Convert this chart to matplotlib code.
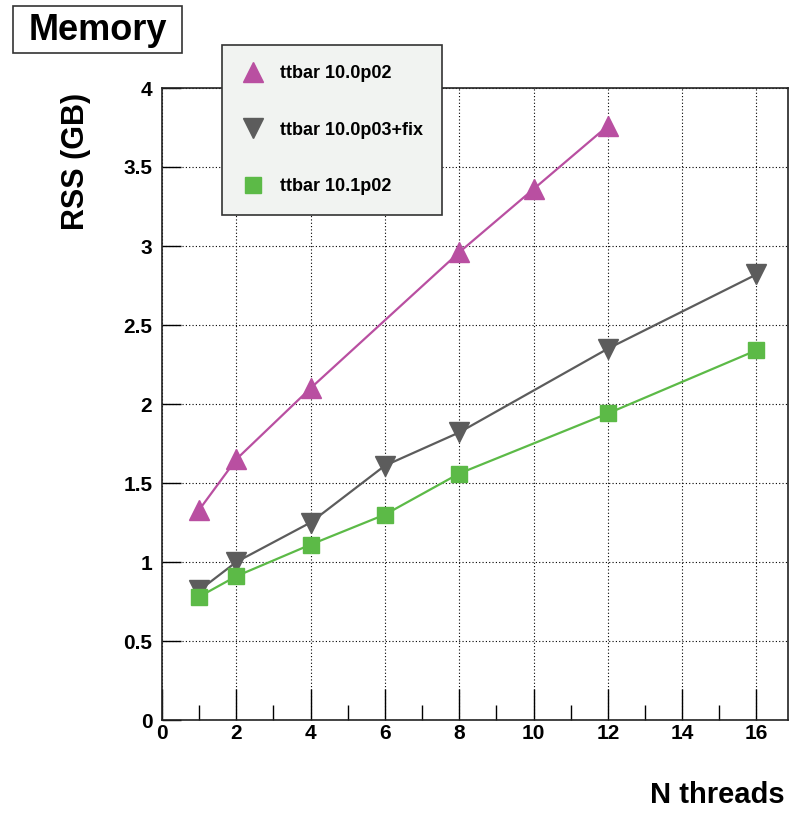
import matplotlib
matplotlib.use("Agg")
import matplotlib.pyplot as plt
from matplotlib.patches import Rectangle
from matplotlib.ticker import MultipleLocator

plt.rcParams['font.family'] = ['Liberation Sans', 'DejaVu Sans']
plt.rcParams['font.weight'] = 'bold'

# Data
x_p02 = [1, 2, 4, 8, 10, 12]
y_p02 = [1.33, 1.65, 2.10, 2.96, 3.36, 3.76]
x_p03 = [1, 2, 4, 6, 8, 12, 16]
y_p03 = [0.82, 1.00, 1.25, 1.61, 1.82, 2.35, 2.82]
x_101 = [1, 2, 4, 6, 8, 12, 16]
y_101 = [0.78, 0.91, 1.11, 1.30, 1.56, 1.94, 2.34]
labels = ["ttbar 10.0p02", "ttbar 10.0p03+fix", "ttbar 10.1p02"]
yticks = [0, 0.5, 1, 1.5, 2, 2.5, 3, 3.5, 4]
yticklabels = ["0", "0.5", "1", "1.5", "2", "2.5", "3", "3.5", "4"]
title = "Memory"
xlabel = "N threads"
ylabel = "RSS (GB)"

c_mag = "#b94fa1"
c_gray = "#5c5c5c"
c_green = "#5cba47"

W, H = 790, 813
fig = plt.figure(figsize=(W / 100, H / 100), dpi=100)
ax = fig.add_axes([162 / W, (H - 720) / H, (788 - 162) / W, (720 - 88) / H])

l1, = ax.plot(x_p02, y_p02, color=c_mag, lw=1.6, marker='^', ms=14, mec=c_mag, mfc=c_mag)
l2, = ax.plot(x_p03, y_p03, color=c_gray, lw=1.6, marker='v', ms=14, mec=c_gray, mfc=c_gray)
l3, = ax.plot(x_101, y_101, color=c_green, lw=1.6, marker='s', ms=11.5, mec=c_green, mfc=c_green)

ax.set_xlim(0, 16.85)
ax.set_ylim(0, 4)
ax.xaxis.set_major_locator(MultipleLocator(2))
ax.xaxis.set_minor_locator(MultipleLocator(1))
ax.set_yticks(yticks)
ax.set_yticklabels(yticklabels)
ax.tick_params(axis='x', which='major', direction='in', length=22, width=1, labelsize=15, pad=3)
ax.tick_params(axis='x', which='minor', direction='in', length=11, width=1)
ax.tick_params(axis='y', which='major', direction='in', length=14, width=1, labelsize=15, pad=7)
ax.tick_params(axis='y', which='minor', left=False)
for lab in ax.get_xticklabels() + ax.get_yticklabels():
    lab.set_fontweight('bold')

ax.grid(True, which='major', color='black', linestyle=(0, (1, 2)), linewidth=0.8)
ax.set_axisbelow(True)
for s in ax.spines.values():
    s.set_linewidth(1.2)
    s.set_color('#222222')

ax.set_xlabel(xlabel, fontsize=21, fontweight='bold', ha='right', va='top')
ax.xaxis.set_label_coords((785 - 162) / 626, (720 - 781) / 632)
ax.set_ylabel(ylabel, fontsize=22, fontweight='bold', ha='right', va='bottom')
ax.yaxis.set_label_coords(-0.113, (720 - 93) / 632)

# Title box
fig.patches.append(Rectangle((13 / W, (H - 53) / H), (182 - 13) / W, (53 - 6) / H,
                             transform=fig.transFigure, facecolor='white',
                             edgecolor='#333333', lw=1.2, zorder=5))
fig.text(97.5 / W, (H - 30) / H, title, fontsize=26, fontweight='bold',
         ha='center', va='center', zorder=6)

# Legend
leg = fig.legend([l1, l2, l3], labels, loc='upper left',
                 bbox_to_anchor=(222 / W, (H - 213) / H, (442 - 222) / W, (213 - 45) / H),
                 mode='expand', frameon=True, fancybox=False, framealpha=1,
                 facecolor='#f1f3f1', edgecolor='#333333', prop={'size': 13, 'weight': 'bold'},
                 labelspacing=2.2, borderpad=1.1, handlelength=1.2, handletextpad=0.9,
                 borderaxespad=0)
leg.get_frame().set_linewidth(1.2)
for h in leg.legend_handles:
    h.set_linestyle('none')

fig.savefig("out.png", dpi=100)
